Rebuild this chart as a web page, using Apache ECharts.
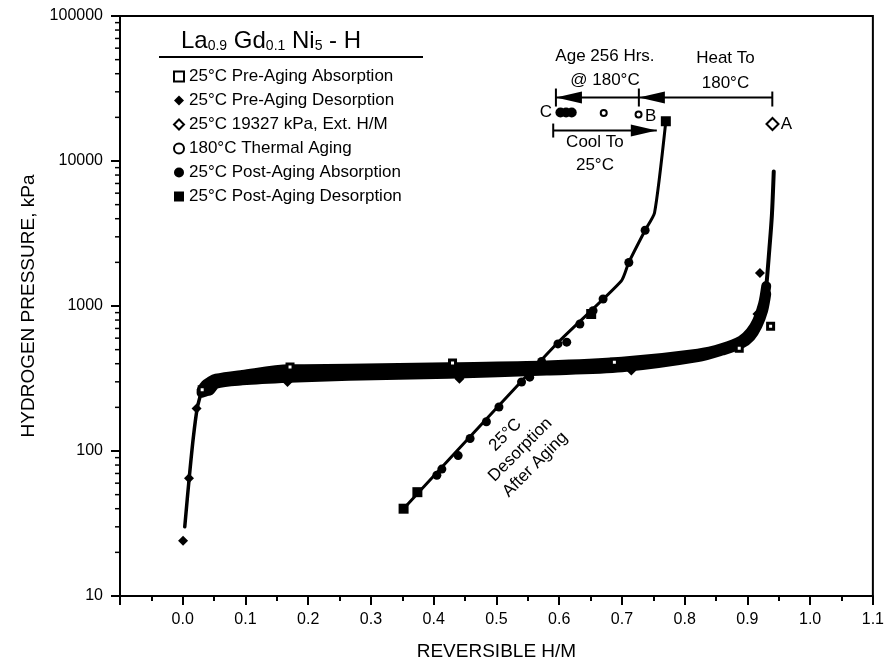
<!DOCTYPE html>
<html>
<head>
<meta charset="utf-8">
<script src="https://cdn.jsdelivr.net/npm/echarts@6/dist/echarts.min.js"></script>
<style>
html,body{margin:0;padding:0;background:#fff;}
#chart{width:887px;height:666px;}
</style>
</head>
<body>
<div id="chart"></div>
<script>
// ---- data (x = reversible H/M, y = pressure kPa) ----
const xTicks = [0.0,0.1,0.2,0.3,0.4,0.5,0.6,0.7,0.8,0.9,1.0,1.1];
const yTicks = [10,100,1000,10000,100000];

const preAbs = [[0.031,265],[0.171,379],[0.430,404],[0.688,410],[0.887,512],[0.937,725]];
const preDes = [[0.0005,24],[0.010,65],[0.022,196],[0.167,299],[0.441,315],[0.715,359],[0.916,881],[0.920,1686]];
const extPoint = [[0.940,18000]];
const thermalOpen = [[0.671,21400],[0.7265,20900]];
const thermalEnd = [[0.602,21600],[0.611,21600],[0.620,21600]];
const postAbs = [[0.405,68],[0.413,75],[0.439,93],[0.458,122],[0.484,159],[0.504,201],[0.540,299],[0.553,323],[0.572,414],[0.598,548],[0.612,563],[0.633,752],[0.654,929],[0.670,1117],[0.711,1996],[0.737,3328]];
const postDes = [[0.352,40],[0.374,52],[0.651,881],[0.770,18800]];

const postLine = [[0.352,40],[0.598,560],[0.699,1486],[0.711,2000],[0.737,3330],[0.752,4400],[0.770,18800]];
const bandUpper = [[0.030,262],[0.036,285],[0.043,300],[0.053,315],[0.095,335],[0.17,366],[0.265,369],[0.424,378],[0.58,389],[0.70,412],[0.821,468],[0.86,512],[0.89,577],[0.905,662],[0.916,793],[0.925,1032],[0.93,1372]];
const bandLower = [[0.030,252],[0.037,258],[0.043,261],[0.053,291],[0.095,307],[0.17,320],[0.265,330],[0.424,341],[0.58,359],[0.70,378],[0.821,444],[0.86,493],[0.89,548],[0.905,615],[0.916,733],[0.925,929],[0.93,1210]];
const steepLow = [[0.0032,30],[0.0103,65],[0.0167,122],[0.023,196],[0.030,258]];
const steepHigh = [[0.926,1000],[0.930,1350],[0.935,2470],[0.939,4200],[0.942,8470]];

const FONT = "'Liberation Sans', Arial, Helvetica, sans-serif";
const BLACK = '#000';

const chart = echarts.init(document.getElementById('chart'), null, {renderer:'canvas'});

const lineBase = {type:'line', symbol:'none', silent:true, z:2, animation:false};

const option = {
  animation:false,
  backgroundColor:'#fff',
  textStyle:{fontFamily:FONT, color:BLACK},
  title:{
    left:181, top:27, padding:0,
    text:'{a|La}{b|0.9}{a| Gd}{b|0.1}{a| Ni}{b|5}{a| - H}',
    textStyle:{
      fontWeight:'normal',
      rich:{
        a:{fontSize:24, lineHeight:26, fontFamily:FONT, fontWeight:'normal', color:BLACK, verticalAlign:'bottom'},
        b:{fontSize:14, lineHeight:15, fontFamily:FONT, fontWeight:'normal', color:BLACK, verticalAlign:'bottom'}
      }
    }
  },
  grid:{left:120, right:10, top:16, bottom:68, show:true, borderColor:BLACK, borderWidth:2, backgroundColor:'transparent'},
  legend:{
    orient:'vertical', left:168, top:63, itemGap:7, itemWidth:10, itemHeight:10,
    selectedMode:false,
    textStyle:{fontSize:17, lineHeight:17, fontFamily:FONT, color:BLACK},
    data:['25°C Pre-Aging Absorption','25°C Pre-Aging Desorption','25°C 19327 kPa, Ext. H/M','180°C Thermal Aging','25°C Post-Aging Absorption','25°C Post-Aging Desorption']
  },
  xAxis:{
    type:'value', min:-0.1, max:1.1, interval:0.1,
    name:'REVERSIBLE H/M', nameLocation:'middle', nameGap:46,
    nameTextStyle:{fontSize:19, fontFamily:FONT, color:BLACK},
    axisLine:{show:true, onZero:false, lineStyle:{color:BLACK, width:2}},
    axisTick:{show:true, inside:false, length:9, lineStyle:{color:BLACK, width:2}},
    minorTick:{show:true, splitNumber:2, length:5, lineStyle:{color:BLACK, width:2}},
    splitLine:{show:false},
    axisLabel:{fontSize:16, color:BLACK, fontFamily:FONT, margin:16,
      formatter:function(v){ return v < -0.05 ? '' : (Math.round(v*10)/10).toFixed(1); }}
  },
  yAxis:{
    type:'log', logBase:10, min:10, max:100000,
    name:'HYDROGEN PRESSURE, kPa', nameLocation:'middle', nameGap:80, nameRotate:90,
    nameTextStyle:{fontSize:19, fontFamily:FONT, color:BLACK},
    axisLine:{show:true, onZero:false, lineStyle:{color:BLACK, width:2}},
    axisTick:{show:true, inside:false, length:9, lineStyle:{color:BLACK, width:2}},
    splitLine:{show:false},
    axisLabel:{fontSize:16, color:BLACK, fontFamily:FONT, margin:17,
      formatter:function(v){ return String(Math.round(v)); }}
  },
  series:[
    Object.assign({}, lineBase, {name:'band-upper', data:bandUpper, smooth:0.3, lineStyle:{color:BLACK, width:10, cap:'round', join:'round'}}),
    Object.assign({}, lineBase, {name:'band-lower', data:bandLower, smooth:0.3, lineStyle:{color:BLACK, width:10, cap:'round', join:'round'}}),
    Object.assign({}, lineBase, {name:'steep-low', data:steepLow, smooth:0.3, lineStyle:{color:BLACK, width:3.5, cap:'round'}}),
    Object.assign({}, lineBase, {name:'steep-high', data:steepHigh, smooth:0.3, lineStyle:{color:BLACK, width:4, cap:'round'}}),
    Object.assign({}, lineBase, {name:'post-line', data:postLine, smooth:0.2, lineStyle:{color:BLACK, width:3, cap:'round'}}),
    {name:'25°C Pre-Aging Absorption', type:'scatter', data:preAbs, symbol:'rect', symbolSize:6, z:4,
      itemStyle:{color:'#fff', borderColor:BLACK, borderWidth:3, opacity:1}},
    {name:'25°C Pre-Aging Desorption', type:'scatter', data:preDes, symbol:'diamond', symbolSize:10, z:3,
      itemStyle:{color:BLACK, opacity:1}},
    {name:'25°C 19327 kPa, Ext. H/M', type:'scatter', data:extPoint, symbol:'diamond', symbolSize:12, z:4,
      itemStyle:{color:'#fff', borderColor:BLACK, borderWidth:2, opacity:1}},
    {name:'180°C Thermal Aging', type:'scatter', data:thermalOpen, symbol:'circle', symbolSize:6, z:4,
      itemStyle:{color:'#fff', borderColor:BLACK, borderWidth:2, opacity:1}},
    {name:'thermal-end', type:'scatter', data:thermalEnd, symbol:'circle', symbolSize:10, z:4,
      itemStyle:{color:BLACK, opacity:1}},
    {name:'25°C Post-Aging Absorption', type:'scatter', data:postAbs, symbol:'circle', symbolSize:9, z:3,
      itemStyle:{color:BLACK, opacity:1}},
    {name:'25°C Post-Aging Desorption', type:'scatter', data:postDes, symbol:'rect', symbolSize:10, z:3,
      itemStyle:{color:BLACK, opacity:1}}
  ]
};
chart.setOption(option);

// ---- annotations positioned through the chart's own coordinate system ----
function P(x, y){ return chart.convertToPixel({gridIndex:0}, [x, y]); }
const els = [];
function seg(a, b, w){ els.push({type:'line', silent:true, z:10, shape:{x1:a[0], y1:a[1], x2:b[0], y2:b[1]}, style:{stroke:BLACK, lineWidth:w||2}}); }
function head(tip, dir){ // dir -1 points left, +1 points right
  els.push({type:'polygon', silent:true, z:10, shape:{points:[[tip[0], tip[1]], [tip[0]-dir*26, tip[1]-6], [tip[0]-dir*26, tip[1]+6]]}, style:{fill:BLACK}});
}
function txt(p, s, size, extra){
  els.push(Object.assign({type:'text', silent:true, z:10, x:p[0], y:p[1],
    style:{text:s, fontSize:size||16, fontFamily:FONT, fill:BLACK, align:'center', verticalAlign:'middle'}}, extra||{}));
}

// top arrows: Heat To / Age 256 Hrs
const yTop = 27400;
const xC = 0.5948, xB = 0.727, xA = 0.9397;
const pC = P(xC, yTop), pB = P(xB, yTop), pA = P(xA, yTop);
seg(pC, pA, 2);
seg([pC[0], pC[1]-9], [pC[0], pC[1]+9], 2);
seg([pB[0], pB[1]-9], [pB[0], pB[1]+9], 2);
seg([pA[0], pA[1]-6], [pA[0], pA[1]+9], 2);
head(pC, -1);
head(pB, -1);

// cool arrow
const yCool = 16220;
const c1 = P(0.5905, yCool), c2 = P(0.7556, yCool);
seg(c1, c2, 2);
seg([c1[0], c1[1]-7], [c1[0], c1[1]+7], 2);
head(c2, 1);

txt(P(0.673, 53100), 'Age 256 Hrs.', 17);
txt(P(0.673, 36300), '@ 180°C', 17);
txt(P(0.865, 51400), 'Heat To', 17);
txt(P(0.865, 34100), '180°C', 17);
txt(P(0.579, 21550), 'C', 17);
txt(P(0.746, 20230), 'B', 17);
txt(P(0.962, 17800), 'A', 17);
txt(P(0.657, 13400), 'Cool To', 17);
txt(P(0.657, 9310), '25°C', 17);

// rotated curve label
const rp = P(0.538, 102);
els.push({type:'text', silent:true, z:10, x:rp[0], y:rp[1], rotation:Math.PI/4,
  style:{text:'25°C\nDesorption\nAfter Aging', fontSize:17, lineHeight:21, fontFamily:FONT, fill:BLACK, align:'center', verticalAlign:'middle'}});

// legend title underline
els.push({type:'line', silent:true, z:10, shape:{x1:159, y1:57, x2:423, y2:57}, style:{stroke:BLACK, lineWidth:2}});

// log-axis minor ticks (2..9 in each decade)
const axisX = P(-0.1, 10)[0];
for (let d = 0; d < yTicks.length - 1; d++) {
  for (let m = 2; m <= 9; m++) {
    const py = P(-0.1, yTicks[d]*m)[1];
    seg([axisX-5, py], [axisX, py], 1.5);
  }
}

chart.setOption({graphic:{elements:els}});
</script>
</body>
</html>
